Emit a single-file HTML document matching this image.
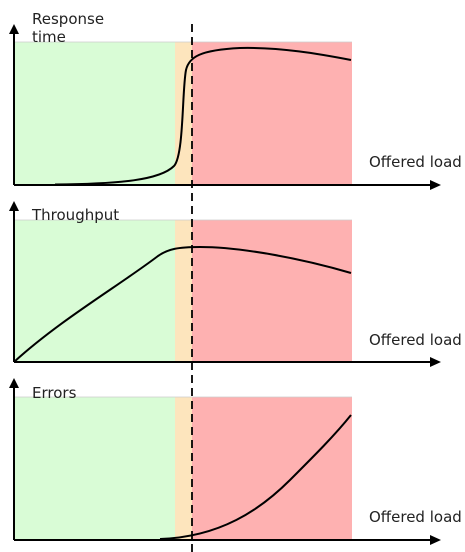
<!DOCTYPE html>
<html><head><style>html,body{margin:0;padding:0;background:#fff}svg{display:block}text{font-family:"DejaVu Sans","Liberation Sans",sans-serif;font-size:15px;fill:#222}</style></head>
<body>
<svg width="465" height="552" viewBox="0 0 465 552" xmlns="http://www.w3.org/2000/svg">
<g>
<rect x="14" y="42" width="161" height="143" fill="#d9fcd6"/>
<rect x="175" y="42" width="17" height="143" fill="#fde5bd"/>
<rect x="192" y="42" width="160" height="143" fill="#feb1b1"/>
<line x1="14" y1="42" x2="352" y2="42" stroke="#ccc" stroke-width="0.7"/>
</g>
<g>
<rect x="14" y="220" width="161" height="142" fill="#d9fcd6"/>
<rect x="175" y="220" width="17" height="142" fill="#fde5bd"/>
<rect x="192" y="220" width="160" height="142" fill="#feb1b1"/>
<line x1="14" y1="220" x2="352" y2="220" stroke="#ccc" stroke-width="0.7"/>
</g>
<g>
<rect x="14" y="397" width="161" height="143" fill="#d9fcd6"/>
<rect x="175" y="397" width="17" height="143" fill="#fde5bd"/>
<rect x="192" y="397" width="160" height="143" fill="#feb1b1"/>
<line x1="14" y1="397" x2="352" y2="397" stroke="#ccc" stroke-width="0.7"/>
</g>
<g stroke="#000" stroke-width="2" fill="none">
<path d="M14 185V32M14 185H430M14 362V210M14 362H430M14 540V387M14 540H430"/>
</g>
<g fill="#000">
<path d="M14 24l-5 10h10z M14 201l-5 10h10z M14 378l-5 10h10z"/>
<path d="M441 185l-11 -5v10z M441 362l-11 -5v10z M441 540l-11 -5v10z"/>
</g>
<line x1="192" y1="24" x2="192" y2="552" stroke="#000" stroke-width="1.8" stroke-dasharray="8,5"/>
<g stroke="#000" stroke-width="2" fill="none">
<path d="M55 184.5 C120 184 160 180 174 166 C184 155 182 90 186 70 C189 57 200 50 240 48 C280 47 320 54 351 60"/>
<path d="M14 362 C60 320 120 285 158 256 C168 249 178 247 200 247 C240 247 300 258 351 273"/>
<path d="M160 539 C220 537 260 510 290 480 C315 455 335 435 351 415"/>
</g>
<text x="32" y="24">Response</text>
<text x="32" y="42">time</text>
<text x="32" y="220">Throughput</text>
<text x="32" y="398">Errors</text>
<text x="369" y="167">Offered load</text>
<text x="369" y="345">Offered load</text>
<text x="369" y="522">Offered load</text>
</svg>
</body></html>
